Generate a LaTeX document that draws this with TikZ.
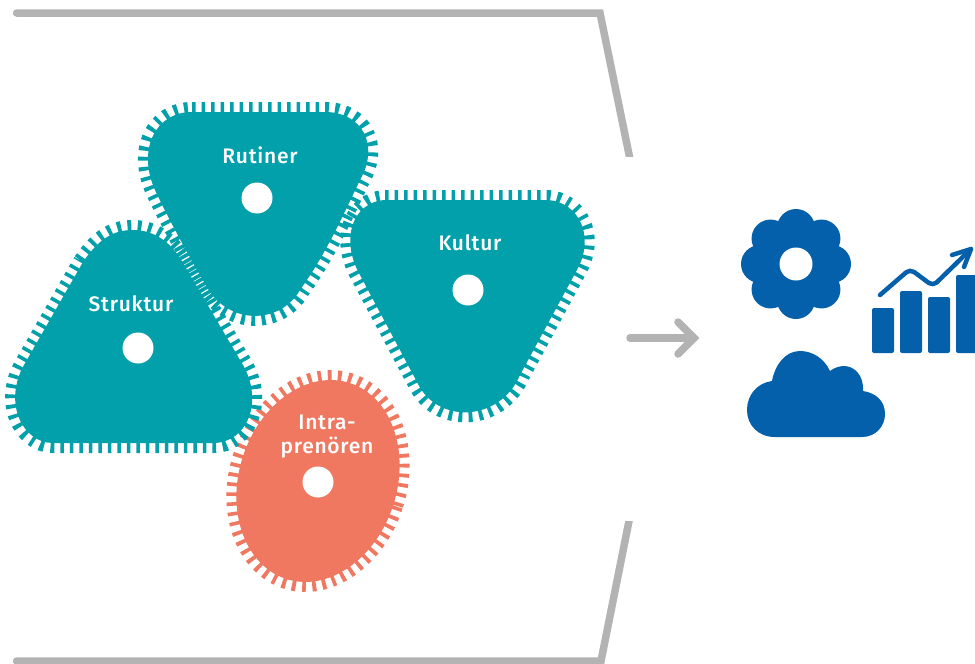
\documentclass[tikz,border=0pt]{standalone}
\usepackage{fontspec}
\setmainfont{Fira Sans}[BoldFont={Fira Sans Medium}]
\usetikzlibrary{arrows.meta}
\definecolor{teal1}{HTML}{01A0AA}
\definecolor{coral1}{HTML}{F07860}
\definecolor{blue1}{HTML}{0560AB}
\definecolor{gray1}{HTML}{B3B3B3}
\begin{document}
\begin{tikzpicture}[x=1pt, y=-1pt]
	\tikzset{teeth/.style={line width=20pt, dash pattern=on 3.6pt off 5.9pt}};
	\tikzset{dot/.style={circle, fill=white, inner sep=0pt, minimum size=31pt}};
	\tikzset{lbl/.style={text=white, font=\fontsize{21}{24}\selectfont\addfontfeatures{LetterSpace=3.5}\bfseries, align=center, inner sep=0pt}};
	\tikzset{frame/.style={gray1, line width=7.5pt, line cap=round}};
	\useasboundingbox (0, 0) rectangle (975, 664);

	% frame
	\coordinate (ta) at (16.5, 13);
	\coordinate (tb) at (600, 13);
	\coordinate (tc) at (632, 169);
	\coordinate (ba) at (16.5, 661);
	\coordinate (bb) at (601, 661);
	\coordinate (bc) at (631, 511);
	\begin{scope}
		\clip (0, 0) rectangle (640, 156);
		\draw[frame] (ta) -- (tb) -- (tc);
	\end{scope}
	\begin{scope}
		\clip (0, 521) rectangle (640, 664);
		\draw[frame] (ba) -- (bb) -- (bc);
	\end{scope}

	% intra
	\def\intrapath{(318, 481) ellipse [x radius=79, y radius=103, rotate=-18]}
	\draw[teeth, coral1] \intrapath;
	\fill[coral1] \intrapath;

	% rutiner
	\def\rutinerpath{(192, 112) -- (325, 112) .. controls (362, 112) and (380, 145) .. (360, 180) .. controls (340, 222) and (325, 255) .. (300, 290) .. controls (280, 325) and (228, 325) .. (207, 287) .. controls (190, 258) and (170, 222) .. (155, 190) .. controls (137, 150) and (155, 112) .. (192, 112) -- cycle}
	\draw[teeth, teal1] \rutinerpath;
	\fill[teal1] \rutinerpath;

	% struktur
	\def\strukturpath{(83, 262) .. controls (100, 237) and (115, 230) .. (133, 230) .. controls (150, 230) and (167, 238) .. (180, 258) -- (243, 365) .. controls (264, 402) and (247, 443) .. (213, 443) -- (53, 443) .. controls (22, 443) and (3, 402) .. (24, 365) -- cycle}
	\draw[teeth, teal1] \strukturpath;
	\fill[teal1] \strukturpath;

	% kultur
	\def\kulturpath{(385, 200) -- (548, 200) .. controls (578, 202) and (595, 235) .. (578, 268) -- (520, 375) .. controls (500, 422) and (437, 425) .. (417, 382) -- (360, 275) .. controls (340, 240) and (352, 202) .. (385, 200) -- cycle}
	\draw[teeth, teal1] \kulturpath;
	\fill[teal1] \kulturpath;

	\node[dot] (drutiner) at (257, 198) {};
	\node[dot] (dkultur) at (468, 290) {};
	\node[dot] (dstruktur) at (138, 348) {};
	\node[dot] (dintra) at (318, 482) {};

	\node[lbl] (rutiner) at (260, 155) {Rutiner};
	\node[lbl] (kultur) at (470, 243) {Kultur};
	\node[lbl] (struktur) at (131, 304) {Struktur};
	\node[lbl] (intra) at (327, 437) {Intra-\\prenören};

	% arrow
	\coordinate (pa) at (630, 338);
	\coordinate (pb) at (694, 338);
	\coordinate (pc) at (678, 322);
	\coordinate (pd) at (678, 354);
	\draw[gray1, line width=7.5pt, line cap=round] (pa) -- (pb);
	\draw[gray1, line width=7.5pt, line cap=round, miter limit=4] (pc) -- (pb) -- (pd);

	% flower
	\foreach \a in {0, 45, ..., 315} {
		\fill[blue1] (796, 264) ++(\a:36) circle (19);
	}
	\fill[blue1] (796, 264) circle (38);
	\node[circle, fill=white, inner sep=0pt, minimum size=33pt] (hole) at (796, 264) {};

	% cloud
	\fill[blue1] (775, 437) -- (862, 437) .. controls (876, 437) and (885, 426) .. (885, 414) .. controls (885, 401) and (876, 393) .. (863, 391) .. controls (864, 375) and (854, 366) .. (844, 366) .. controls (839, 366) and (834, 368) .. (830, 371) .. controls (824, 358) and (812, 351) .. (800, 351) .. controls (785, 351) and (775, 365) .. (772, 381) .. controls (757, 383) and (747, 395) .. (747, 410) .. controls (747, 425) and (758, 437) .. (775, 437) -- cycle;

	% bars
	\tikzset{bar/.style={fill=blue1, rounded corners=2pt}};
	\fill[bar] (872, 308) rectangle (894, 353);
	\fill[bar] (900, 291) rectangle (922, 353);
	\fill[bar] (928, 297) rectangle (950, 353);
	\fill[bar] (956, 275) rectangle (980, 353);

	% trend
	\coordinate (ca) at (880, 295);
	\coordinate (cb) at (910, 269);
	\coordinate (cc) at (933, 286);
	\coordinate (cd) at (971, 249);
	\coordinate (ce) at (952, 255);
	\coordinate (cf) at (964, 267);
	\draw[blue1, line width=4.5pt, line cap=round, line join=round, rounded corners=5pt] (ca) -- (cb) -- (cc) -- (cd);
	\draw[blue1, line width=4.5pt, line cap=round, line join=round] (ce) -- (cd) -- (cf);
\end{tikzpicture}
\end{document}
